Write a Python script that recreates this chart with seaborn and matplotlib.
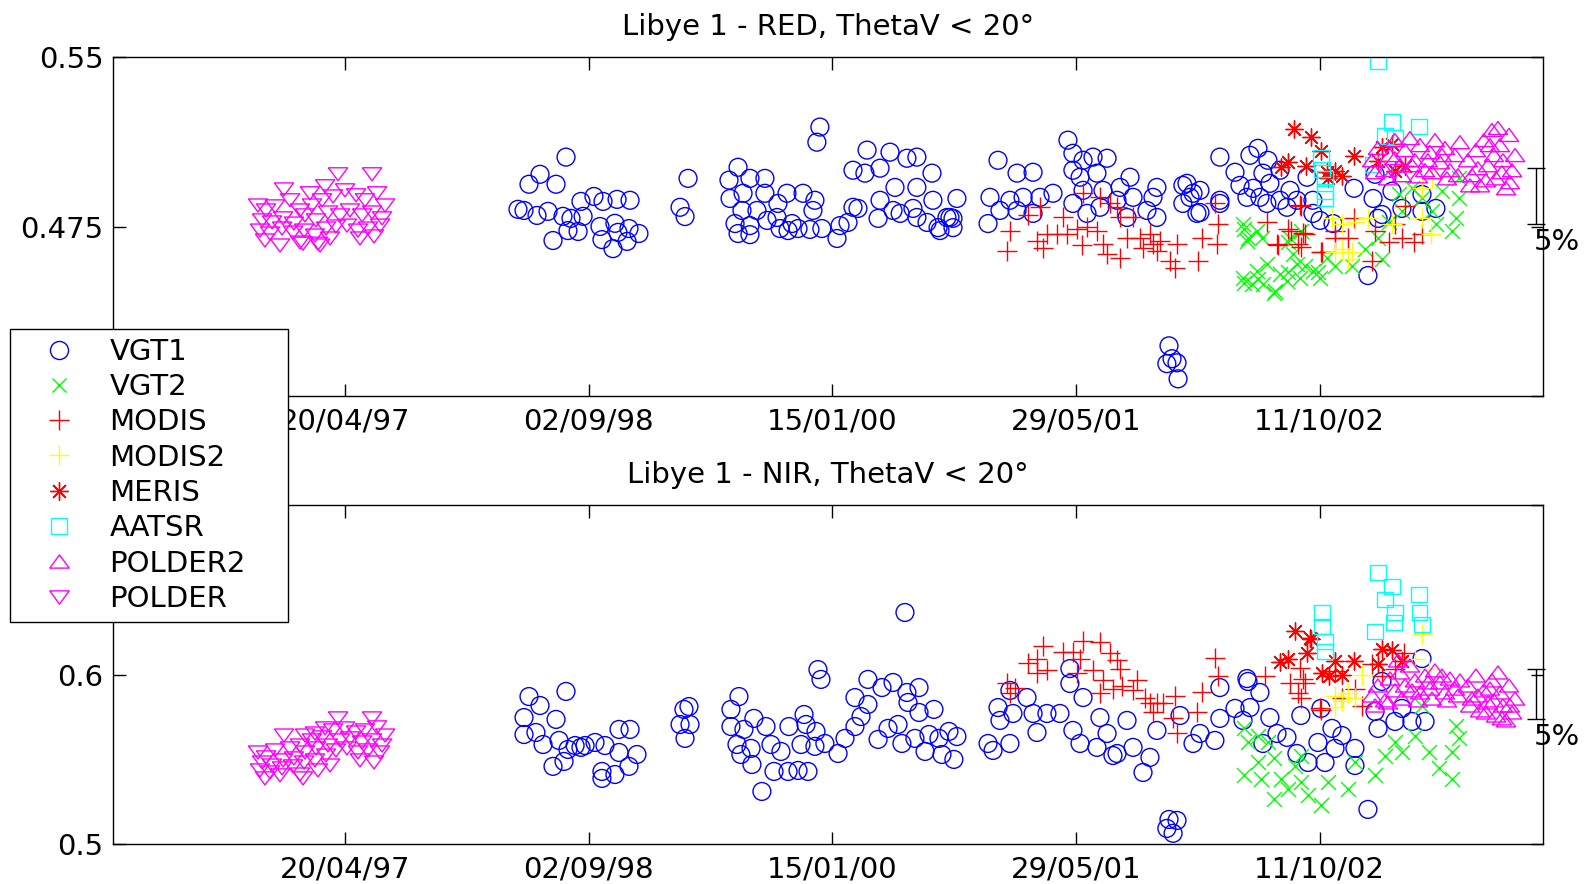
import numpy as np
import pandas as pd
import seaborn as sns
import matplotlib.pyplot as plt
import matplotlib.dates as mdates
from matplotlib.lines import Line2D
from matplotlib.markers import MarkerStyle

# every point is (decimal year, reflectance)

vgt1Red = [
    (1998.271, 0.4826), (1998.541, 0.5057), (1998.395, 0.4981), (1998.333, 0.4937), (1998.485, 0.4937),
    (1998.625, 0.4861), (1998.698, 0.4883), (1998.749, 0.4861), (1998.828, 0.4870), (1998.901, 0.4866),
    (1998.305, 0.4821), (1998.378, 0.4799), (1998.440, 0.4817), (1998.524, 0.4795), (1998.569, 0.4786),
    (1998.637, 0.4795), (1998.552, 0.4732), (1998.468, 0.4688), (1998.609, 0.4728), (1998.732, 0.4750),
    (1998.816, 0.4764), (1998.895, 0.4741), (1998.951, 0.4719), (1998.743, 0.4692), (1998.805, 0.4652),
    (1998.884, 0.4684), (1998.833, 0.4724),
    (1999.968, 0.5190), (1999.951, 0.5123), (1999.227, 0.4963), (1999.182, 0.4835), (1999.210, 0.4794),
    (1999.508, 0.5012), (1999.457, 0.4955), (1999.575, 0.4963), (1999.659, 0.4963), (1999.463, 0.4874),
    (1999.536, 0.4897), (1999.659, 0.4897), (1999.530, 0.4821), (1999.614, 0.4821), (1999.783, 0.4897),
    (1999.873, 0.4897), (1999.940, 0.4866), (1999.732, 0.4852), (1999.929, 0.4821), (1999.491, 0.4763),
    (1999.575, 0.4754), (1999.671, 0.4777), (1999.727, 0.4790), (1999.811, 0.4763), (1999.508, 0.4719),
    (1999.575, 0.4714), (1999.744, 0.4741), (1999.789, 0.4732), (1999.845, 0.4741), (1999.912, 0.4737),
    (1999.979, 0.4741), (2000.064, 0.4697), (2000.081, 0.4754), (2000.126, 0.4768), (2000.154, 0.4835),
    (2000.182, 0.4830), (2000.154, 0.4999), (2000.233, 0.5088), (2000.362, 0.5079), (2000.457, 0.5052),
    (2000.513, 0.5057), (2000.221, 0.4986), (2000.306, 0.5008), (2000.598, 0.4986), (2000.390, 0.4923),
    (2000.513, 0.4923), (2000.306, 0.4866), (2000.379, 0.4821), (2000.491, 0.4830), (2000.603, 0.4866),
    (2000.738, 0.4874), (2000.295, 0.4786), (2000.419, 0.4808), (2000.513, 0.4790), (2000.570, 0.4768),
    (2000.632, 0.4745), (2000.682, 0.4790), (2000.716, 0.4745), (2000.716, 0.4786), (2000.699, 0.4790),
    (2000.643, 0.4732),
    (2000.969, 0.5043), (2000.924, 0.4879), (2000.913, 0.4763), (2001.076, 0.4986), (2001.166, 0.4990),
    (2001.036, 0.4866), (2001.110, 0.4879), (2001.205, 0.4879), (2001.278, 0.4897), (2000.980, 0.4821),
    (2001.076, 0.4821), (2001.166, 0.4808), (2001.362, 0.5132), (2001.390, 0.5074), (2001.447, 0.5043),
    (2001.503, 0.5057), (2001.582, 0.5052), (2001.390, 0.4999), (2001.430, 0.4968), (2001.525, 0.4986),
    (2001.447, 0.4910), (2001.559, 0.4910), (2001.655, 0.4923), (2001.711, 0.4968), (2001.728, 0.4879),
    (2001.840, 0.4879), (2001.862, 0.4923), (2001.390, 0.4852), (2001.542, 0.4835), (2001.638, 0.4866),
    (2001.806, 0.4821), (2001.862, 0.4790), (2001.469, 0.4808), (2001.694, 0.4790), (2002.008, 0.4932),
    (2002.048, 0.4879), (2002.104, 0.4910), (2002.008, 0.4852), (2002.087, 0.4808), (2002.216, 0.4852),
    (2002.216, 0.5057), (2001.930, 0.4222), (2001.947, 0.4165), (2001.918, 0.4143), (2001.975, 0.4147),
    (2001.981, 0.4076),
    (2002.385, 0.5065), (2002.430, 0.5096), (2002.486, 0.5043), (2002.301, 0.4990), (2002.458, 0.4986),
    (2002.554, 0.4999), (2002.329, 0.4932), (2002.402, 0.4919), (2002.497, 0.4941), (2002.610, 0.4910),
    (2002.706, 0.4968), (2002.031, 0.4941), (2002.065, 0.4897), (2002.216, 0.4866), (2002.104, 0.4812),
    (2002.368, 0.4879), (2002.441, 0.4879), (2002.480, 0.4852), (2002.554, 0.4866), (2002.593, 0.4835),
    (2002.649, 0.4866), (2002.739, 0.4866), (2002.779, 0.4777), (2002.852, 0.4763), (2002.739, 0.4808),
    (2003.048, 0.4533), (2003.088, 0.4981), (2003.077, 0.4874), (2003.105, 0.4786), (2003.183, 0.4906),
    (2003.239, 0.4830), (2003.352, 0.4892), (2003.352, 0.4817), (2003.430, 0.4830), (2002.970, 0.4919),
    (2003.127, 0.4803),
]

vgt1Nir = [
    (1998.541, 0.5900), (1998.333, 0.5870), (1998.395, 0.5817), (1998.305, 0.5746), (1998.485, 0.5735),
    (1998.305, 0.5646), (1998.372, 0.5658), (1998.412, 0.5587), (1998.502, 0.5611), (1998.552, 0.5558),
    (1998.625, 0.5570), (1998.704, 0.5599), (1998.839, 0.5676), (1998.901, 0.5676), (1998.760, 0.5581),
    (1998.839, 0.5540), (1998.940, 0.5528), (1998.468, 0.5458), (1998.530, 0.5487), (1998.743, 0.5428),
    (1998.816, 0.5410), (1998.895, 0.5458), (1998.743, 0.5387), (1998.648, 0.5581), (1998.592, 0.5581),
    (2000.446, 0.6366), (1999.957, 0.6029), (1999.974, 0.5971), (1999.232, 0.5811), (1999.204, 0.5794),
    (1999.182, 0.5705), (1999.238, 0.5705), (1999.210, 0.5623), (1999.513, 0.5870), (1999.468, 0.5794),
    (1999.468, 0.5693), (1999.597, 0.5741), (1999.665, 0.5693), (1999.541, 0.5676), (1999.502, 0.5587),
    (1999.581, 0.5564), (1999.524, 0.5528), (1999.586, 0.5469), (1999.693, 0.5587), (1999.749, 0.5546),
    (1999.794, 0.5693), (1999.879, 0.5764), (1999.890, 0.5705), (1999.946, 0.5664), (1999.862, 0.5587),
    (1999.940, 0.5576), (1999.996, 0.5593), (1999.710, 0.5428), (1999.789, 0.5428), (1999.845, 0.5434),
    (1999.901, 0.5428), (1999.642, 0.5310), (2000.070, 0.5534), (2000.109, 0.5623), (2000.165, 0.5693),
    (2000.199, 0.5752), (2000.165, 0.5864), (2000.238, 0.5823), (2000.238, 0.5971), (2000.317, 0.5923),
    (2000.379, 0.5953), (2000.295, 0.5617), (2000.351, 0.5682), (2000.407, 0.5705), (2000.429, 0.5593),
    (2000.457, 0.5894), (2000.525, 0.5923), (2000.463, 0.5835), (2000.525, 0.5776), (2000.609, 0.5794),
    (2000.502, 0.5623), (2000.581, 0.5646), (2000.637, 0.5623), (2000.693, 0.5664), (2000.738, 0.5634),
    (2000.559, 0.5546), (2000.654, 0.5528), (2000.721, 0.5499),
    (2000.913, 0.5593), (2000.941, 0.5552), (2000.969, 0.5805), (2001.036, 0.5906), (2000.980, 0.5729),
    (2001.053, 0.5770), (2001.132, 0.5864), (2001.166, 0.5770), (2001.244, 0.5770), (2001.317, 0.5770),
    (2001.188, 0.5658), (2001.036, 0.5593), (2001.373, 0.6035), (2001.373, 0.5947), (2001.447, 0.5864),
    (2001.390, 0.5670), (2001.430, 0.5593), (2001.525, 0.5570), (2001.542, 0.5746), (2001.582, 0.5652),
    (2001.638, 0.5534), (2001.694, 0.5729), (2001.728, 0.5570), (2001.784, 0.5422), (2001.823, 0.5511),
    (2001.862, 0.5670), (2001.992, 0.5758), (2002.065, 0.5593), (2002.104, 0.5652), (2002.188, 0.5611),
    (2002.216, 0.5923), (2002.216, 0.5741), (2002.368, 0.5976), (2002.301, 0.5800), (2002.385, 0.5805),
    (2002.346, 0.5729), (2002.441, 0.5894), (2002.497, 0.5746), (2002.537, 0.5652), (2002.458, 0.5593),
    (2002.593, 0.5629), (2002.649, 0.5534), (2001.930, 0.5145), (2001.975, 0.5139), (2001.918, 0.5092),
    (2001.953, 0.5063),
    (2002.784, 0.5800), (2002.846, 0.5682), (2002.902, 0.5640), (2002.767, 0.5599), (2002.863, 0.5564),
    (2002.975, 0.5564), (2002.975, 0.5463), (2003.088, 0.5782), (2003.105, 0.5682), (2003.048, 0.5204),
    (2003.127, 0.5959), (2003.239, 0.5800), (2003.295, 0.5723), (2003.369, 0.5723), (2003.352, 0.6094),
    (2003.200, 0.5723), (2002.374, 0.5959), (2002.671, 0.5758), (2002.711, 0.5481), (2002.807, 0.5481),
    (2001.615, 0.5522),
]

vgt2Red = [
    (2002.346, 0.4763), (2002.424, 0.4732), (2002.368, 0.4688), (2002.452, 0.4701), (2002.346, 0.4523),
    (2002.424, 0.4554), (2002.396, 0.4497), (2002.480, 0.4585), (2002.458, 0.4497), (2002.526, 0.4466),
    (2002.554, 0.4541), (2002.593, 0.4510), (2002.649, 0.4585), (2002.666, 0.4523), (2002.627, 0.4630),
    (2002.739, 0.4554), (2002.779, 0.4523), (2002.818, 0.4612), (2002.610, 0.4701), (2002.351, 0.4741),
    (2002.374, 0.4697), (2002.351, 0.4501), (2002.430, 0.4519), (2002.520, 0.4456), (2002.598, 0.4550),
    (2002.694, 0.4577), (2002.767, 0.4550), (2002.863, 0.4577), (2002.958, 0.4577), (2003.032, 0.4652),
    (2003.105, 0.4697), (2003.166, 0.4772), (2003.222, 0.4892), (2003.239, 0.4817), (2003.295, 0.4919),
    (2003.352, 0.4874), (2003.408, 0.4817), (2003.430, 0.4759), (2003.520, 0.4728), (2003.542, 0.4786),
    (2003.559, 0.4874), (2003.559, 0.4963), (2003.464, 0.4906), (2002.672, 0.4728), (2002.598, 0.4683),
    (2003.127, 0.4608),
]

vgt2Nir = [
    (2002.351, 0.5682), (2002.374, 0.5599), (2002.430, 0.5640), (2002.351, 0.5405), (2002.430, 0.5481),
    (2002.447, 0.5381), (2002.520, 0.5505), (2002.559, 0.5381), (2002.520, 0.5263), (2002.598, 0.5322),
    (2002.638, 0.5463), (2002.672, 0.5363), (2002.711, 0.5287), (2002.784, 0.5228), (2002.824, 0.5363),
    (2002.936, 0.5322), (2002.975, 0.5481), (2003.088, 0.5405), (2003.144, 0.5522), (2003.200, 0.5599),
    (2003.239, 0.5540), (2003.312, 0.5640), (2003.391, 0.5540), (2003.352, 0.5817), (2003.447, 0.5446),
    (2003.520, 0.5381), (2003.542, 0.5699), (2003.559, 0.5623), (2003.520, 0.5540), (2002.486, 0.5599),
    (2002.672, 0.5522),
]

modisRed = [
    (2001.036, 0.4732), (2001.019, 0.4643), (2001.137, 0.4799), (2001.188, 0.4688), (2001.222, 0.4657),
    (2001.205, 0.4835), (2001.244, 0.4719), (2001.334, 0.4790), (2001.357, 0.4719), (2001.413, 0.4741),
    (2001.441, 0.4666), (2001.447, 0.4897), (2001.542, 0.4879), (2001.598, 0.4852), (2001.525, 0.4732),
    (2001.559, 0.4674), (2001.582, 0.4630), (2001.655, 0.4790), (2001.655, 0.4612), (2001.694, 0.4701),
    (2001.728, 0.4790), (2001.767, 0.4701), (2001.784, 0.4657), (2001.823, 0.4719), (2001.840, 0.4674),
    (2001.862, 0.4643), (2001.879, 0.4688), (2001.935, 0.4599), (2001.963, 0.4568), (2001.975, 0.4674),
    (2002.093, 0.4599), (2002.115, 0.4697), (2002.200, 0.4674), (2002.205, 0.4763), (2002.188, 0.4852),
    (2001.638, 0.4835), (2001.469, 0.4746), (2001.300, 0.4719), (2002.480, 0.4768), (2002.598, 0.4741),
    (2002.537, 0.4674), (2002.655, 0.4674), (2002.683, 0.4723), (2002.666, 0.4843), (2002.863, 0.4697),
    (2002.790, 0.4635), (2002.672, 0.4839), (2002.694, 0.4719), (2002.615, 0.4728), (2002.542, 0.4666),
    (2002.672, 0.4661), (2002.784, 0.4639), (2002.863, 0.4728), (2002.936, 0.4697), (2003.071, 0.4599),
    (2003.088, 0.4728), (2003.166, 0.4683), (2003.239, 0.4697), (2003.307, 0.4683), (2003.256, 0.4839),
    (2003.200, 0.4759), (2003.352, 0.4719), (2002.970, 0.4786),
]

modisNir = [
    (2001.019, 0.5947), (2001.036, 0.5888), (2001.064, 0.5923), (2001.137, 0.6065), (2001.222, 0.6171),
    (2001.188, 0.6094), (2001.188, 0.6006), (2001.244, 0.6024), (2001.334, 0.6130), (2001.390, 0.6130),
    (2001.447, 0.6200), (2001.430, 0.6094), (2001.413, 0.6006), (2001.542, 0.6189), (2001.598, 0.6124),
    (2001.638, 0.6083), (2001.503, 0.6024), (2001.559, 0.5965), (2001.655, 0.6035), (2001.666, 0.5935),
    (2001.542, 0.5888), (2001.615, 0.5917), (2001.750, 0.5965), (2001.728, 0.5906), (2001.795, 0.5864),
    (2001.862, 0.5829), (2001.823, 0.5829), (2001.896, 0.5829), (2001.963, 0.5876), (2001.953, 0.5746),
    (2001.975, 0.5652), (2002.115, 0.5894), (2002.087, 0.5776), (2002.188, 0.6100), (2002.205, 0.5994),
    (2001.840, 0.5776), (2002.469, 0.5994), (2002.610, 0.5947), (2002.683, 0.5976), (2002.666, 0.6041),
    (2002.655, 0.5888), (2002.779, 0.5805), (2002.694, 0.5947), (2002.672, 0.5859), (2002.784, 0.5788),
    (2002.863, 0.6018), (2002.902, 0.5859), (2002.975, 0.5917), (2003.015, 0.5817), (2003.071, 0.6059),
    (2003.127, 0.5994), (2003.200, 0.6035), (2003.250, 0.6124),
]

modis2Red = [
    (2002.846, 0.4786), (2002.902, 0.4763), (2002.975, 0.4772), (2003.048, 0.4786), (2002.863, 0.4639),
    (2002.902, 0.4652), (2002.958, 0.4639), (2003.352, 0.4919), (2003.408, 0.4963), (2003.352, 0.4786),
    (2003.402, 0.4719), (2003.183, 0.4759), (2002.936, 0.4608),
]

modis2Nir = [
    (2002.863, 0.5876), (2002.902, 0.5841), (2002.975, 0.5859), (2003.015, 0.6000), (2003.352, 0.6236),
    (2003.312, 0.6094), (2003.391, 0.6035), (2002.863, 0.5811), (2002.936, 0.5888),
]

merisRed = [
    (2002.632, 0.5181), (2002.728, 0.5145), (2002.784, 0.5083), (2002.559, 0.5012), (2002.598, 0.5034),
    (2002.700, 0.5016), (2002.818, 0.4990), (2002.863, 0.4994), (2002.902, 0.4972), (2002.970, 0.5061),
    (2003.127, 0.5101), (2003.183, 0.5114), (2003.105, 0.5039), (2003.200, 0.4994), (2003.256, 0.5016),
    (2002.824, 0.4963),
]

merisNir = [
    (2002.638, 0.6259), (2002.722, 0.6218), (2002.554, 0.6071), (2002.598, 0.6094), (2002.705, 0.6124),
    (2002.790, 0.6006), (2002.829, 0.5994), (2002.728, 0.6212), (2003.127, 0.6153), (2003.183, 0.6147),
    (2002.970, 0.6077), (2003.105, 0.6059), (2003.239, 0.6077), (2002.863, 0.6077), (2002.902, 0.6000),
]

aatsrRed = [
    (2003.105, 0.5479), (2003.183, 0.5212), (2003.335, 0.5194), (2003.144, 0.5150), (2003.200, 0.5145),
    (2002.784, 0.5056), (2002.790, 0.5003), (2002.807, 0.4963), (2002.807, 0.4906), (2002.807, 0.4874),
    (2003.077, 0.5025),
]

aatsrNir = [
    (2003.105, 0.6601), (2003.183, 0.6519), (2003.144, 0.6442), (2003.200, 0.6366), (2003.194, 0.6307),
    (2003.088, 0.6254), (2003.335, 0.6472), (2003.340, 0.6366), (2003.352, 0.6295), (2002.790, 0.6366),
    (2002.790, 0.6283), (2002.807, 0.6195), (2002.807, 0.6136),
]

polder2Red = [
    (2003.071, 0.5043), (2003.104, 0.5097), (2003.144, 0.4999), (2003.172, 0.5066), (2003.200, 0.5132),
    (2003.228, 0.5021), (2003.256, 0.5088), (2003.284, 0.5141), (2003.312, 0.5043), (2003.341, 0.5110),
    (2003.369, 0.4999), (2003.397, 0.5079), (2003.425, 0.5132), (2003.453, 0.5034), (2003.481, 0.5097),
    (2003.509, 0.4999), (2003.537, 0.5066), (2003.565, 0.5123), (2003.088, 0.4990), (2003.161, 0.4963),
    (2003.239, 0.4977), (2003.329, 0.4972), (2003.408, 0.4990), (2003.492, 0.4963), (2003.554, 0.4977),
    (2003.200, 0.5052), (2003.296, 0.5021), (2003.385, 0.5043), (2003.464, 0.5066),
    (2003.610, 0.5043), (2003.633, 0.4977), (2003.655, 0.5088), (2003.678, 0.4932), (2003.700, 0.5132),
    (2003.723, 0.5021), (2003.745, 0.5177), (2003.768, 0.4963), (2003.790, 0.5110), (2003.807, 0.5043),
    (2003.824, 0.4919), (2003.841, 0.5155), (2003.858, 0.4999), (2003.875, 0.5066), (2003.622, 0.4932),
    (2003.666, 0.5008), (2003.711, 0.4954), (2003.756, 0.5066), (2003.801, 0.4990), (2003.846, 0.4946),
    (2003.779, 0.5186), (2003.734, 0.5110),
]

polder2Nir = [
    (2003.071, 0.5876), (2003.104, 0.5935), (2003.144, 0.5847), (2003.172, 0.5976), (2003.200, 0.5906),
    (2003.228, 0.6012), (2003.256, 0.5935), (2003.284, 0.6053), (2003.312, 0.5965), (2003.341, 0.5894),
    (2003.369, 0.5994), (2003.397, 0.5917), (2003.425, 0.6024), (2003.453, 0.5953), (2003.481, 0.5894),
    (2003.509, 0.5976), (2003.537, 0.5917), (2003.565, 0.5965), (2003.088, 0.5817), (2003.161, 0.5835),
    (2003.239, 0.5858), (2003.329, 0.5847), (2003.408, 0.5858), (2003.492, 0.5847), (2003.554, 0.5876),
    (2003.217, 0.6083), (2003.296, 0.5906), (2003.385, 0.5953), (2003.464, 0.5994),
    (2003.610, 0.5935), (2003.633, 0.5858), (2003.655, 0.5994), (2003.678, 0.5788), (2003.700, 0.5906),
    (2003.723, 0.5835), (2003.745, 0.5965), (2003.768, 0.5758), (2003.790, 0.5894), (2003.807, 0.5817),
    (2003.824, 0.5729), (2003.841, 0.5935), (2003.858, 0.5776), (2003.875, 0.5858), (2003.622, 0.5817),
    (2003.666, 0.5876), (2003.711, 0.5776), (2003.756, 0.5847), (2003.801, 0.5741), (2003.846, 0.5817),
    (2003.779, 0.6012), (2003.734, 0.5917),
]

polderRed = [
    (1996.956, 0.4914), (1997.260, 0.4981), (1997.451, 0.4981), (1997.187, 0.4928), (1997.102, 0.4897),
    (1996.810, 0.4843), (1996.855, 0.4821), (1996.906, 0.4839), (1996.990, 0.4866), (1997.046, 0.4821),
    (1997.113, 0.4843), (1997.170, 0.4866), (1997.232, 0.4883), (1997.299, 0.4910), (1997.361, 0.4888),
    (1997.411, 0.4866), (1997.479, 0.4897), (1997.524, 0.4843),
    (1996.833, 0.4777), (1996.889, 0.4768), (1996.951, 0.4786), (1997.012, 0.4763), (1997.074, 0.4799),
    (1997.136, 0.4777), (1997.203, 0.4812), (1997.271, 0.4799), (1997.327, 0.4821), (1997.395, 0.4799),
    (1997.451, 0.4812), (1997.507, 0.4786),
    (1996.821, 0.4732), (1996.878, 0.4719), (1996.945, 0.4741), (1997.007, 0.4723), (1997.069, 0.4732),
    (1997.130, 0.4710), (1997.192, 0.4741), (1997.248, 0.4750), (1997.310, 0.4754), (1997.372, 0.4732),
    (1997.428, 0.4741), (1997.496, 0.4754),
    (1996.849, 0.4688), (1996.934, 0.4666), (1997.046, 0.4679), (1997.147, 0.4674), (1997.215, 0.4697),
    (1997.383, 0.4697), (1997.462, 0.4706), (1997.063, 0.4674), (1997.159, 0.4666),
]

polderNir = [
    (1996.956, 0.5640), (1997.260, 0.5741), (1997.451, 0.5741), (1997.187, 0.5682), (1997.074, 0.5640),
    (1997.130, 0.5652),
    (1996.810, 0.5540), (1996.855, 0.5511), (1996.906, 0.5552), (1996.990, 0.5564), (1997.046, 0.5581),
    (1997.113, 0.5611), (1997.170, 0.5629), (1997.232, 0.5670), (1997.299, 0.5682), (1997.361, 0.5658),
    (1997.411, 0.5670), (1997.479, 0.5688), (1997.524, 0.5640),
    (1996.833, 0.5481), (1996.889, 0.5463), (1996.951, 0.5493), (1997.012, 0.5505), (1997.074, 0.5540),
    (1997.136, 0.5564), (1997.203, 0.5581), (1997.271, 0.5611), (1997.327, 0.5623), (1997.395, 0.5599),
    (1997.451, 0.5611), (1997.507, 0.5581),
    (1996.821, 0.5434), (1996.878, 0.5422), (1996.945, 0.5446), (1997.007, 0.5458), (1997.069, 0.5481),
    (1997.130, 0.5493), (1997.192, 0.5522), (1997.248, 0.5552), (1997.310, 0.5564), (1997.372, 0.5540),
    (1997.428, 0.5552), (1997.496, 0.5540),
    (1996.849, 0.5387), (1996.934, 0.5405), (1997.046, 0.5410), (1997.147, 0.5434), (1997.215, 0.5463),
    (1997.383, 0.5493), (1997.462, 0.5481), (1997.063, 0.5387),
]

sensorNames = ["VGT1", "VGT2", "MODIS", "MODIS2", "MERIS", "AATSR", "POLDER2", "POLDER"]
redSeries = [vgt1Red, vgt2Red, modisRed, modis2Red, merisRed, aatsrRed, polder2Red, polderRed]
nirSeries = [vgt1Nir, vgt2Nir, modisNir, modis2Nir, merisNir, aatsrNir, polder2Nir, polderNir]

tickDates = ["1997-04-20", "1998-09-02", "2000-01-15", "2001-05-29", "2002-10-11"]
redTicks = [0.4, 0.475, 0.55]
redTickLabels = ["0.4", "0.475", "0.55"]
nirTicks = [0.5, 0.6, 0.7]
nirTickLabels = ["0.5", "0.6", "0.7"]

# reference level of the 5 % bar in each panel
redBarCentre = 0.4885
nirBarCentre = 0.5885

fontSize = 21


def toDate(decimalYears) :
    return pd.Timestamp("1996-01-01") + pd.to_timedelta((np.asarray(decimalYears) - 1996.0) * 365.25, unit = "D")


wideUp = [(-1.0, -0.68), (1.0, -0.68), (0.0, 0.68), (-1.0, -0.68)]
wideDown = [(-1.0, 0.68), (1.0, 0.68), (0.0, -0.68), (-1.0, 0.68)]

sensorMarkers = {
    "VGT1" : MarkerStyle("o", fillstyle = "none"),
    "VGT2" : "x",
    "MODIS" : "+",
    "MODIS2" : "+",
    "MERIS" : (8, 2, 0),
    "AATSR" : MarkerStyle("s", fillstyle = "none"),
    "POLDER2" : MarkerStyle(wideUp, fillstyle = "none"),
    "POLDER" : MarkerStyle(wideDown, fillstyle = "none"),
}
sensorColours = {
    "VGT1" : "#0000ff", "VGT2" : "#00ff00", "MODIS" : "#ff0000", "MODIS2" : "#ffff00",
    "MERIS" : "#ff0000", "AATSR" : "#00ffff", "POLDER2" : "#ff00ff", "POLDER" : "#ff00ff",
}
sensorSizes = {
    "VGT1" : 165, "VGT2" : 115, "MODIS" : 200, "MODIS2" : 200,
    "MERIS" : 150, "AATSR" : 120, "POLDER2" : 190, "POLDER" : 190,
}
legendSizes = {
    "VGT1" : 13, "VGT2" : 10, "MODIS" : 14, "MODIS2" : 14,
    "MERIS" : 13, "AATSR" : 11, "POLDER2" : 14, "POLDER" : 14,
}


def drawPanel(ax, seriesList, title, yTicks, yTickLabels, barCentre) :
    for name, points in zip(sensorNames, seriesList) :
        frame = pd.DataFrame(points, columns = ["year", "value"])
        frame["date"] = toDate(frame["year"])
        sns.scatterplot(
            data = frame, x = "date", y = "value", ax = ax,
            marker = sensorMarkers[name], color = sensorColours[name],
            s = sensorSizes[name], linewidth = 1.0, legend = False
        )

    ax.set_xlim(toDate([1995.995])[0], toDate([2004.032])[0])
    ax.set_ylim(yTicks[0], yTicks[-1])
    ax.set_xticks(pd.to_datetime(tickDates))
    ax.xaxis.set_major_formatter(mdates.DateFormatter("%d/%m/%y"))
    ax.set_yticks(yTicks)
    ax.set_yticklabels(yTickLabels)
    ax.set_xlabel("")
    ax.set_ylabel("")
    ax.set_title(title, fontsize = fontSize, pad = 16)
    ax.tick_params(direction = "in", top = True, right = True, length = 9, width = 1,
                   labelsize = fontSize, color = "black")
    ax.tick_params(axis = "x", pad = 8)
    ax.tick_params(axis = "y", pad = 7)
    for spine in ax.spines.values() :
        spine.set_visible(True)
        spine.set_linewidth(1.0)
        spine.set_color("black")

    # 5 % scale bar on the right edge
    barDate = toDate([2003.99])[0]
    barHalf = barCentre * 0.025
    ax.errorbar([barDate], [barCentre], yerr = [[barHalf], [barHalf]], fmt = "none",
                ecolor = "black", elinewidth = 1.0, capsize = 6.5, capthick = 1.0, clip_on = False)
    ax.annotate("5%", xy = (barDate, barCentre - barHalf), xytext = (-1, -3),
                textcoords = "offset points", ha = "left", va = "top", fontsize = fontSize,
                annotation_clip = False)


sns.set_theme(style = "ticks", rc = {
    "axes.edgecolor" : "black", "text.color" : "black", "axes.labelcolor" : "black",
    "xtick.color" : "black", "ytick.color" : "black",
})
plt.rcParams["font.family"] = ["DejaVu Sans"]

fig = plt.figure(figsize = (15.85, 8.84), dpi = 100)
axRed = fig.add_axes([113 / 1585, 1 - 396 / 884, 1430 / 1585, 339 / 884])
axNir = fig.add_axes([113 / 1585, 1 - 844 / 884, 1430 / 1585, 339 / 884])

drawPanel(axRed, redSeries, "Libye 1 - RED, ThetaV < 20°", redTicks, redTickLabels, redBarCentre)
drawPanel(axNir, nirSeries, "Libye 1 - NIR, ThetaV < 20°", nirTicks, nirTickLabels, nirBarCentre)

handles = []
for name in sensorNames :
    marker = sensorMarkers[name]
    handles.append(Line2D([], [], linestyle = "none", marker = marker,
                          markerfacecolor = "none", markeredgecolor = sensorColours[name],
                          color = sensorColours[name], markersize = legendSizes[name],
                          markeredgewidth = 1.0))

legend = fig.legend(
    handles, sensorNames, loc = "upper left",
    bbox_to_anchor = (10 / 1585, 1 - 619 / 884, 278 / 1585, 290 / 884),
    mode = "expand", borderaxespad = 0, fontsize = fontSize, frameon = True, fancybox = False,
    edgecolor = "black", framealpha = 1, borderpad = 0.3, labelspacing = 0.25,
    handlelength = 2.79, handletextpad = 0.32, numpoints = 1
)
legend.get_frame().set_linewidth(1.0)

fig.savefig("out.png", dpi = 100)
